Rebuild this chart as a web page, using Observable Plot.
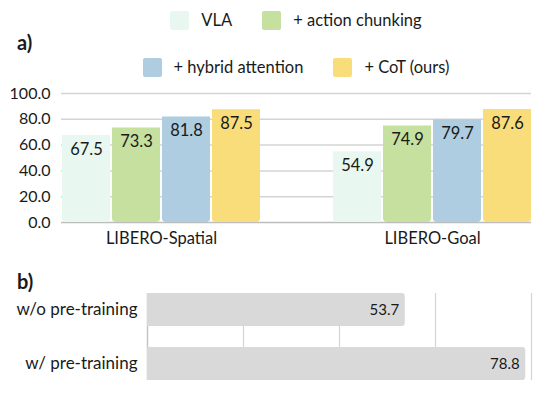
<!DOCTYPE html>
<html>
<head>
<meta charset="utf-8">
<script src="https://cdn.jsdelivr.net/npm/d3@7"></script>
<script src="https://cdn.jsdelivr.net/npm/@observablehq/plot@0.6"></script>
<style>
  html, body { margin: 0; padding: 0; background: #fff; }
  #wrap { position: relative; width: 546px; height: 399px; font-family: Lato, "Open Sans", sans-serif; color: #1a1a1a; overflow: hidden; }
  .legend-row { position: absolute; left: 61px; width: 470px; height: 20px; display: flex; justify-content: center; align-items: center; font-size: 16.5px; }
  .item { display: flex; align-items: center; margin: 0 15px; }
  .sw { width: 19px; height: 19px; border-radius: 2px; margin-right: 12px; }
  .panel { position: absolute; left: 17px; font-weight: bold; font-size: 20px; line-height: 22px; }
  .chart { position: absolute; left: 0; width: 546px; }
  .chart svg { display: block; position: absolute; left: 0; top: 0; max-width: none !important; }
</style>
</head>
<body>
<div id="wrap">
  <div class="legend-row" id="leg1" style="top:10px"></div>
  <div class="legend-row" id="leg2" style="top:57px"></div>
  <div class="panel" style="top:31px">a)</div>
  <div class="chart" id="chartA" style="top:80px; height:172px"></div>
  <div class="panel" style="top:270px">b)</div>
  <div class="chart" id="chartB" style="top:283px; height:107px"></div>
</div>
<script>
// ---- data ----
const categories = ["LIBERO-Spatial", "LIBERO-Goal"];
const series = ["VLA", "+ action chunking", "+ hybrid attention", "+ CoT (ours)"];
const seriesColors = ["#e8f8f1", "#c5e09f", "#aecde0", "#f9dd7a"];
const spatialValues = [67.5, 73.3, 81.8, 87.5];
const goalValues = [54.9, 74.9, 79.7, 87.6];
const yTicks = [0, 20, 40, 60, 80, 100];

const pretrainLabels = ["w/o pre-training", "w/ pre-training"];
const pretrainValues = [53.7, 78.8];
const xTicksB = [0, 20, 40, 60, 80];

// ---- legend ----
const rows = [[0, 1], [2, 3]];
rows.forEach((idx, r) => {
  const row = document.getElementById(r === 0 ? "leg1" : "leg2");
  idx.forEach(i => {
    const it = document.createElement("div");
    it.className = "item";
    const sw = document.createElement("div");
    sw.className = "sw";
    sw.style.background = seriesColors[i];
    const tx = document.createElement("span");
    tx.textContent = series[i];
    it.appendChild(sw); it.appendChild(tx);
    row.appendChild(it);
  });
});

const fontStyle = {fontFamily: "Lato, 'Open Sans', sans-serif", fontSize: "15px", color: "#1a1a1a", background: "transparent", maxWidth: "none"};

// ---- chart a ----
const tableA = [];
categories.forEach((c, ci) => {
  const vals = ci === 0 ? spatialValues : goalValues;
  series.forEach((s, si) => tableA.push({category: c, series: s, value: vals[si]}));
});

const dimsA = {width: 546, height: 172, marginTop: 13, marginBottom: 30, marginLeft: 61, marginRight: 15};

// background grid layer (continuous across both groups)
const gridA = Plot.plot({
  ...dimsA,
  style: fontStyle,
  x: {axis: null},
  y: {domain: [0, 100], axis: null},
  marks: [
    Plot.ruleY(yTicks.filter(t => t > 0), {stroke: "#d4d4d4", strokeWidth: 1.5}),
    Plot.ruleY([0], {stroke: "#bdbdbd", strokeWidth: 1.5})
  ]
});

const chartA = Plot.plot({
  ...dimsA,
  style: fontStyle,
  fx: {domain: categories, paddingInner: 0.27, paddingOuter: 0, label: null},
  x: {domain: series, paddingInner: 0.05, paddingOuter: 0, axis: null},
  y: {domain: [0, 100], label: null},
  color: {domain: series, range: seriesColors},
  marks: [
    Plot.barY(tableA, {fx: "category", x: "series", y: "value", fill: "series", ry2: 4}),
    Plot.text(tableA, {fx: "category", x: "series", y: "value", text: d => d.value.toFixed(1), dy: 14, lineAnchor: "middle", fontSize: 16.5, fill: "#1a1a1a"}),
    Plot.axisY({ticks: yTicks, tickFormat: d3.format(".1f"), tickSize: 0, tickPadding: 12, fontSize: 16, label: null}),
    Plot.axisFx({anchor: "bottom", tickSize: 0, tickPadding: 10, fontSize: 16.5, label: null})
  ]
});
const hostA = document.getElementById("chartA");
hostA.appendChild(gridA);
hostA.appendChild(chartA);

// ---- chart b ----
const tableB = pretrainLabels.map((l, i) => ({label: l, value: pretrainValues[i]}));
const chartB = Plot.plot({
  width: 546,
  height: 107,
  marginTop: 10,
  marginBottom: 10,
  marginLeft: 147,
  marginRight: 15,
  style: fontStyle,
  x: {domain: [0, 80], axis: null},
  y: {domain: pretrainLabels, paddingInner: 0.39, paddingOuter: 0, label: null},
  marks: [
    Plot.ruleX(xTicksB.filter(t => t > 0), {stroke: "#d4d4d4", strokeWidth: 1.2}),
    Plot.ruleX([0], {stroke: "#c4c4c4", strokeWidth: 1.5}),
    Plot.barX(tableB, {y: "label", x: "value", fill: "#d9d9d9", rx2: 3}),
    Plot.text(tableB, {y: "label", x: "value", text: d => d.value.toFixed(1), dx: -6, textAnchor: "end", fontSize: 15, fill: "#1a1a1a"}),
    Plot.axisY({tickSize: 0, tickPadding: 10, fontSize: 17, label: null})
  ]
});
document.getElementById("chartB").appendChild(chartB);
</script>
</body>
</html>
